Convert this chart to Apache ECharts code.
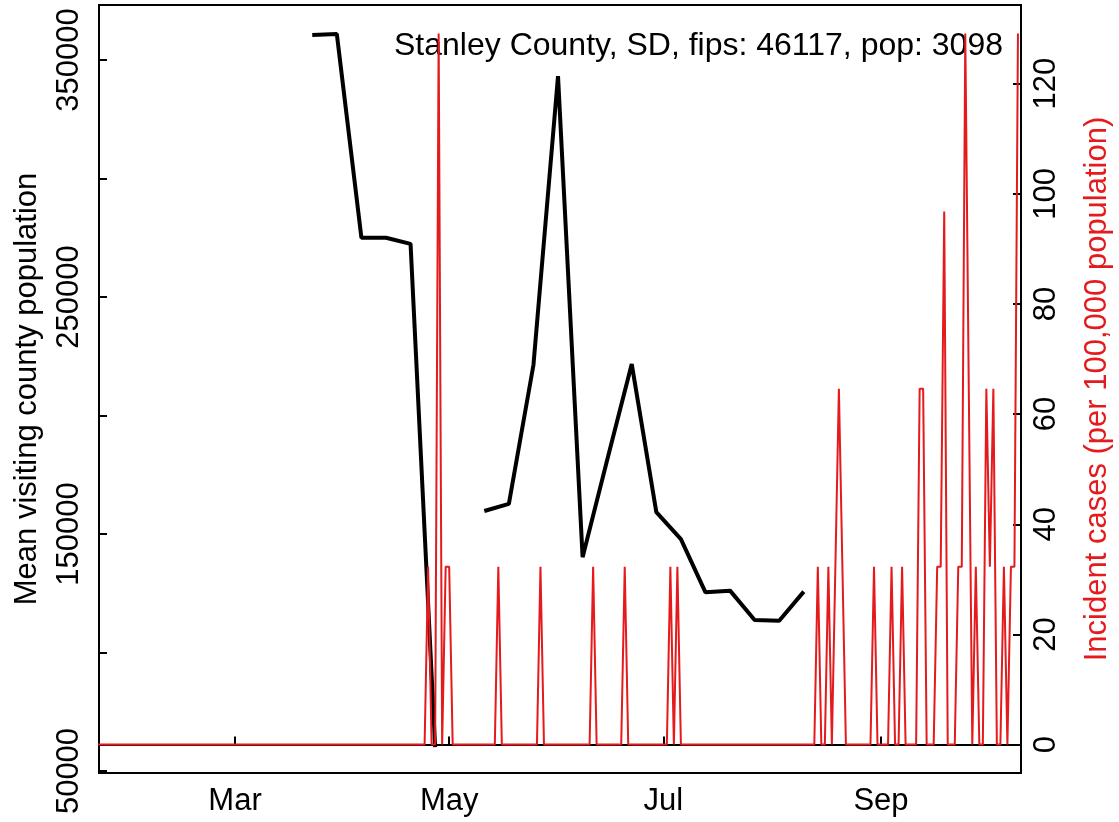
<!DOCTYPE html>
<html>
<head>
<meta charset="utf-8">
<title>Stanley County, SD</title>
<script src="https://cdn.jsdelivr.net/npm/echarts@6/dist/echarts.min.js"></script>
<style>
  html, body { margin: 0; padding: 0; background: #fff; }
  #main { width: 1119px; height: 822px; }
</style>
</head>
<body>
<div id="main"></div>
<script>
'use strict';

// weekly mean visiting county population (Mondays), null = missing week
const weekDates = [
  '2020-03-23', '2020-03-30', '2020-04-06', '2020-04-13', '2020-04-20', '2020-04-27',
  '2020-05-04', '2020-05-11', '2020-05-18', '2020-05-25', '2020-06-01', '2020-06-08',
  '2020-06-15', '2020-06-22', '2020-06-29', '2020-07-06', '2020-07-13', '2020-07-20',
  '2020-07-27', '2020-08-03', '2020-08-10'
];
const visitPop = [
  360500, 361000, 275000, 275000, 272400, 60100,
  null, 159700, 162700, 221300, 343200, 140200,
  181200, 221700, 159200, 147800, 125400, 126100,
  113700, 113400, 125700
];

// daily incident cases per 100,000 population, one value per day from caseStart
const caseStart = '2020-01-22';
const caseRate = [
  0, 0, 0, 0, 0, 0, 0, 0, 0, 0, 0, 0, 0, 0, 0, 0, 0, 0, 0, 0,
  0, 0, 0, 0, 0, 0, 0, 0, 0, 0, 0, 0, 0, 0, 0, 0, 0, 0, 0, 0,
  0, 0, 0, 0, 0, 0, 0, 0, 0, 0, 0, 0, 0, 0, 0, 0, 0, 0, 0, 0,
  0, 0, 0, 0, 0, 0, 0, 0, 0, 0, 0, 0, 0, 0, 0, 0, 0, 0, 0, 0,
  0, 0, 0, 0, 0, 0, 0, 0, 0, 0, 0, 0, 0, 0, 32.3, 0, 0, 129.1, 0, 32.3,
  32.3, 0, 0, 0, 0, 0, 0, 0, 0, 0, 0, 0, 0, 0, 32.3, 0, 0, 0, 0, 0,
  0, 0, 0, 0, 0, 0, 32.3, 0, 0, 0, 0, 0, 0, 0, 0, 0, 0, 0, 0, 0,
  0, 32.3, 0, 0, 0, 0, 0, 0, 0, 0, 32.3, 0, 0, 0, 0, 0, 0, 0, 0, 0,
  0, 0, 0, 32.3, 0, 32.3, 0, 0, 0, 0, 0, 0, 0, 0, 0, 0, 0, 0, 0, 0,
  0, 0, 0, 0, 0, 0, 0, 0, 0, 0, 0, 0, 0, 0, 0, 0, 0, 0, 0, 0,
  0, 0, 0, 0, 0, 32.3, 0, 0, 32.3, 0, 32.3, 64.6, 32.3, 0, 0, 0, 0, 0, 0, 0,
  0, 32.3, 0, 0, 0, 0, 32.3, 0, 0, 32.3, 0, 0, 0, 0, 64.6, 64.6, 0, 0, 0, 32.3,
  32.3, 96.8, 0, 0, 0, 32.3, 32.3, 129.1, 64.6, 0, 32.3, 0, 0, 64.6, 32.3, 64.6, 0, 0, 32.3, 0,
  32.3, 32.3, 129.1
];

// axis ticks and labels
const monthTicks = ['2020-03-01', '2020-05-01', '2020-07-01', '2020-09-01'];
const monthLabels = ['Mar', 'May', 'Jul', 'Sep'];
const leftTicks = [50000, 100000, 150000, 200000, 250000, 300000, 350000];
const leftLabels = [50000, 150000, 250000, 350000];
const rightTicks = [0, 20, 40, 60, 80, 100, 120];

const titleText = 'Stanley County, SD, fips: 46117, pop: 3098';
const leftName = 'Mean visiting county population';
const rightName = 'Incident cases (per 100,000 population)';

const FONT = '"Liberation Sans", Arial, Helvetica, sans-serif';
const RED = '#e41a1c';
const DAY = 86400000;

// dates become millisecond numbers on a plain value axis
const parse = s => echarts.time.parse(s);
const monthTimes = monthTicks.map(s => parse(s).getTime());
const mar1 = parse('2020-03-01').getTime();

const start = parse(caseStart);
const caseData = caseRate.map((v, i) => [
  new Date(start.getFullYear(), start.getMonth(), start.getDate() + i).getTime(), v
]);
const visitData = weekDates.map((d, i) => [parse(d).getTime(), visitPop[i]]);

const axisLine = { show: true, lineStyle: { color: '#000', width: 2 } };
const tick = vals => ({
  show: true, inside: true, length: 8, customValues: vals,
  lineStyle: { color: '#000', width: 2 }
});
const label = { fontSize: 31, fontFamily: FONT, color: '#000' };

const chart = echarts.init(document.getElementById('main'), null, { renderer: 'canvas' });
chart.setOption({
  animation: false,
  backgroundColor: '#fff',
  title: {
    text: titleText,
    right: 116,
    top: 30,
    padding: 0,
    z: 1,
    textStyle: { fontSize: 32, fontWeight: 'normal', fontFamily: FONT, color: '#000' }
  },
  grid: {
    left: 99, right: 98, top: 5, bottom: 49,
    outerBoundsMode: 'none',
    show: true, borderColor: '#000', borderWidth: 2
  },
  xAxis: {
    type: 'value',
    min: mar1 - 38.74 * DAY,
    max: mar1 + 223.87 * DAY,
    axisLine: axisLine,
    axisTick: tick(monthTimes),
    axisLabel: Object.assign({}, label, {
      customValues: monthTimes,
      margin: 13,
      formatter: v => monthLabels[monthTimes.indexOf(v)] || ''
    }),
    splitLine: { show: false }
  },
  yAxis: [{
    type: 'value',
    position: 'left',
    min: 49156,
    max: 373207,
    axisLine: axisLine,
    axisTick: tick(leftTicks),
    axisLabel: Object.assign({}, label, {
      customValues: leftLabels,
      rotate: 90,
      margin: 14,
      formatter: v => String(v)
    }),
    splitLine: { show: false },
    name: leftName,
    nameLocation: 'middle',
    nameRotate: 90,
    nameGap: 56,
    nameTextStyle: { fontSize: 31, fontFamily: FONT, color: '#000' }
  }, {
    type: 'value',
    position: 'right',
    min: -5.16,
    max: 134.28,
    axisLine: axisLine,
    axisTick: tick(rightTicks),
    axisLabel: Object.assign({}, label, {
      customValues: rightTicks,
      rotate: 90,
      margin: 10,
      formatter: v => String(v)
    }),
    splitLine: { show: false },
    name: rightName,
    nameLocation: 'middle',
    nameRotate: 90,
    nameGap: 61,
    nameTextStyle: { fontSize: 31, fontFamily: FONT, color: RED }
  }],
  series: [{
    name: 'visitors',
    type: 'line',
    yAxisIndex: 0,
    data: visitData,
    showSymbol: false,
    connectNulls: false,
    z: 2,
    lineStyle: { color: '#000', width: 4 }
  }, {
    name: 'cases',
    type: 'line',
    yAxisIndex: 1,
    data: caseData,
    showSymbol: false,
    z: 3,
    lineStyle: { color: RED, width: 2 }
  }]
});
</script>
</body>
</html>
